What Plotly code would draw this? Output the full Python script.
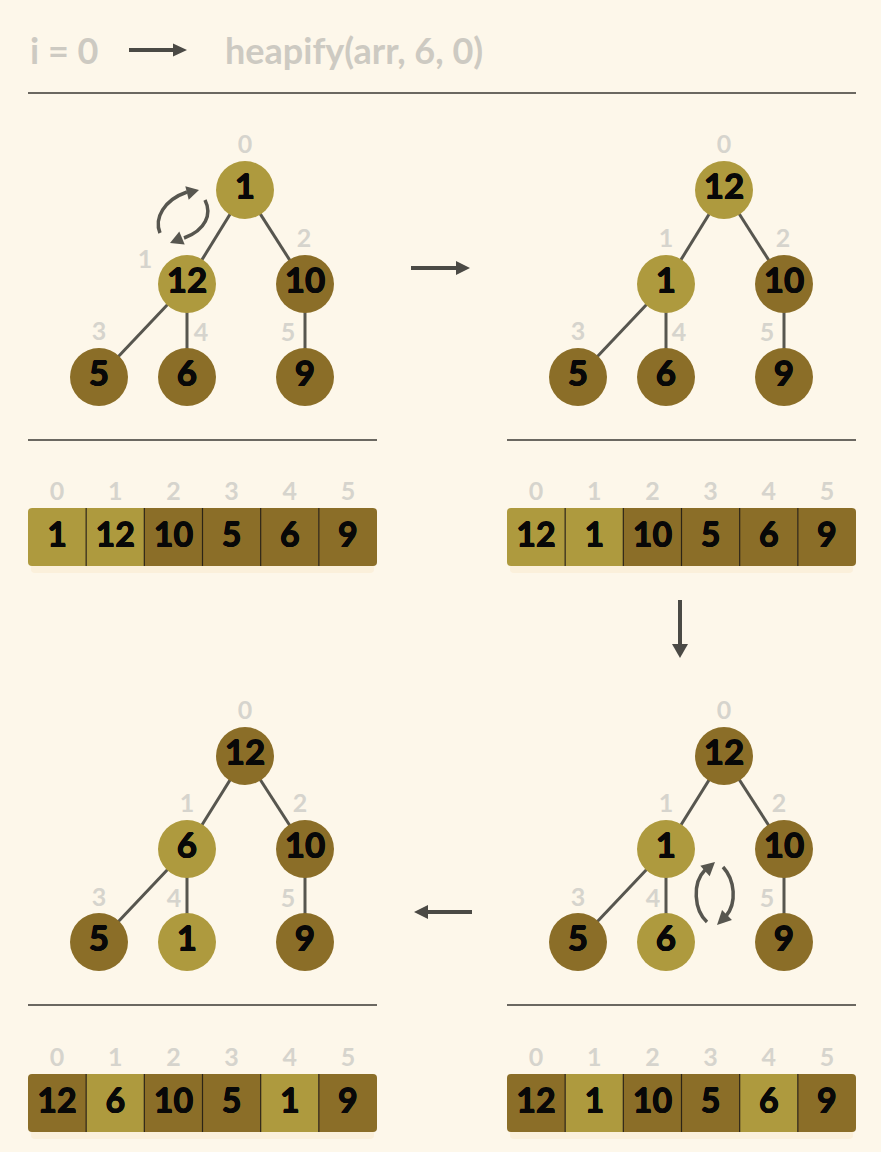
import plotly.graph_objects as go

W, H = 881, 1152
BG = "#fdf7ea"
LIGHT = "#ae9a3e"
DARK = "#8b6e28"
INK = "#080808"
EDGE = "#57564f"
ARROW = "#4b4a45"
FAINT = "#d6d4cd"
TITLE_GRAY = "#cdcac2"
FONT = "Lato"
# thicken the digits a little (the source uses a heavier cut than Lato Bold)
HEAVY = "0.5px 0 0 #080808, -0.5px 0 0 #080808, 0 0.5px 0 #080808, 0 -0.5px 0 #080808"

# title
title_left = "i = 0"
title_right = "heapify(arr, 6, 0)"

# array state in each step: top-left, top-right, bottom-right, bottom-left
arr_1 = [1, 12, 10, 5, 6, 9]
arr_2 = [12, 1, 10, 5, 6, 9]
arr_3 = [12, 1, 10, 5, 6, 9]
arr_4 = [12, 6, 10, 5, 1, 9]
highlight_1 = [0, 1]
highlight_2 = [0, 1]
highlight_3 = [1, 4]
highlight_4 = [1, 4]
index_labels = ["0", "1", "2", "3", "4", "5"]

# layout of the 4 panels (pixel positions)
node_dx = [217, 159, 277, 71, 159, 277]      # x of each heap slot from panel left
top_rows = [190, 284, 377]
bottom_rows = [756, 849, 942]
lbl_a = [(0, -43), (-42, -22), (-1, -43), (0, -43), (14, -42), (-17, -42)]
lbl_b = [(0, -43), (0, -43), (-1, -43), (0, -43), (13, -42), (-17, -42)]
lbl_c = [(0, -43), (0, -43), (-5, -43), (0, -42), (-13, -41), (-17, -41)]

panels = [
    dict(arr=arr_1, hl=highlight_1, left=28, rows=top_rows, line_y=440, arr_y=508, lbl=lbl_a),
    dict(arr=arr_2, hl=highlight_2, left=507, rows=top_rows, line_y=440, arr_y=508, lbl=lbl_b),
    dict(arr=arr_3, hl=highlight_3, left=507, rows=bottom_rows, line_y=1005, arr_y=1074, lbl=lbl_c),
    dict(arr=arr_4, hl=highlight_4, left=28, rows=bottom_rows, line_y=1005, arr_y=1074, lbl=lbl_c),
]
PANEL_W = 349
CELL_H = 58
R = 29


def head(tip, base, half):
    tx, ty = tip
    bx, by = base
    dx, dy = tx - bx, ty - by
    n = (dx * dx + dy * dy) ** 0.5
    px, py = -dy / n * half, dx / n * half
    return (f"M {tx},{ty} L {bx + px},{by + py} L {bx - px},{by - py} Z")


def straight_arrow(x0, y0, x1, y1, shapes, half=7, hl=14, width=4):
    dx, dy = x1 - x0, y1 - y0
    n = (dx * dx + dy * dy) ** 0.5
    bx, by = x1 - dx / n * hl, y1 - dy / n * hl
    shapes.append(dict(type="line", x0=x0, y0=y0, x1=bx + dx / n * 2, y1=by + dy / n * 2,
                       line=dict(color=ARROW, width=width), layer="below"))
    shapes.append(dict(type="path", path=head((x1, y1), (bx, by), half),
                       fillcolor=ARROW, line=dict(width=0), layer="below"))


def swap_arrow(arc_a, tip_a, arc_b, tip_b, shapes):
    for arc, (tip, base) in ((arc_a, tip_a), (arc_b, tip_b)):
        shapes.append(dict(type="path", path=arc, line=dict(color=EDGE, width=3.5),
                           layer="below"))
        shapes.append(dict(type="path", path=head(tip, base, 7),
                           fillcolor=EDGE, line=dict(width=0), layer="below"))


def rounded_cell(x0, y0, x1, y1, rl, rr):
    return (f"M {x0 + rl},{y0} L {x1 - rr},{y0} Q {x1},{y0} {x1},{y0 + rr} "
            f"L {x1},{y1 - rr} Q {x1},{y1} {x1 - rr},{y1} L {x0 + rl},{y1} "
            f"Q {x0},{y1} {x0},{y1 - rl} L {x0},{y0 + rl} Q {x0},{y0} {x0 + rl},{y0} Z")


fig = go.Figure()
shapes = []

# title row
shapes.append(dict(type="line", x0=28, y0=93, x1=856, y1=93,
                   line=dict(color="#3a3833", width=1.3), layer="below"))
straight_arrow(129, 50, 187, 50, shapes, half=6.5, hl=14, width=4)

for p in panels:
    left = p["left"]
    xs = [left + d for d in node_dx]
    ys = [p["rows"][0], p["rows"][1], p["rows"][1],
          p["rows"][2], p["rows"][2], p["rows"][2]]
    # edges
    for i in range(1, len(p["arr"])):
        par = (i - 1) // 2
        shapes.append(dict(type="line", x0=xs[par], y0=ys[par], x1=xs[i], y1=ys[i],
                           line=dict(color=EDGE, width=3), layer="below"))
    cols = [LIGHT if i in p["hl"] else DARK for i in range(len(p["arr"]))]
    fig.add_trace(go.Scatter(
        x=xs, y=ys, mode="markers+text",
        marker=dict(size=2 * R, color=cols, line=dict(width=0)),
        text=[str(v) for v in p["arr"]], textposition="middle center",
        textfont=dict(family=FONT, size=35, color=INK, weight="bold", shadow=HEAVY),
        hoverinfo="skip", showlegend=False))
    # slot indices next to nodes
    fig.add_trace(go.Scatter(
        x=[xs[i] + p["lbl"][i][0] for i in range(6)],
        y=[ys[i] + p["lbl"][i][1] for i in range(6)],
        mode="text", text=index_labels,
        textfont=dict(family=FONT, size=25, color=FAINT, weight="bold"),
        hoverinfo="skip", showlegend=False))

    # separator
    shapes.append(dict(type="line", x0=left, y0=p["line_y"], x1=left + PANEL_W, y1=p["line_y"],
                       line=dict(color="#3a3833", width=1.3), layer="below"))

    # array row
    cw = PANEL_W / len(p["arr"])
    y0 = p["arr_y"]
    y1 = y0 + CELL_H
    shapes.append(dict(type="path",
                       path=rounded_cell(left + 3, y1 - 2, left + PANEL_W - 3, y1 + 7, 4, 4),
                       fillcolor="rgba(238,196,130,0.14)", line=dict(width=0), layer="below"))
    cx = []
    for i in range(len(p["arr"])):
        a = left + i * cw
        b = a + cw
        rl = 4 if i == 0 else 0
        rr = 4 if i == len(p["arr"]) - 1 else 0
        shapes.append(dict(type="path", path=rounded_cell(a, y0, b, y1, rl, rr),
                           fillcolor=cols[i], line=dict(width=0), layer="below"))
        if i > 0:
            shapes.append(dict(type="line", x0=a, y0=y0, x1=a, y1=y1,
                               line=dict(color="#2c2416", width=1.2), layer="below"))
        cx.append(a + cw / 2)
    fig.add_trace(go.Scatter(
        x=cx, y=[y0 + CELL_H / 2 + 1] * 6, mode="text",
        text=[str(v) for v in p["arr"]],
        textfont=dict(family=FONT, size=34, color=INK, weight="bold", shadow=HEAVY),
        hoverinfo="skip", showlegend=False))
    fig.add_trace(go.Scatter(
        x=cx, y=[y0 - 14] * 6, mode="text", text=index_labels,
        textfont=dict(family=FONT, size=25, color=FAINT, weight="bold"),
        hoverinfo="skip", showlegend=False))

# step arrows between panels
straight_arrow(411, 268, 470, 268, shapes, half=7, hl=14)
straight_arrow(680, 600, 680, 658, shapes, half=8, hl=14)
straight_arrow(472, 912, 414, 912, shapes, half=7, hl=14)

# swap markers
swap_arrow("M 160,233 C 154,218 164,200 187,192", ((199, 190), (187, 193)),
           "M 205,200 C 212,214 206,230 184,238", ((170, 243), (182, 238)), shapes)
swap_arrow("M 707,922 C 694,910 692,883 705,870", ((715, 862), (705, 871)),
           "M 723,867 C 735,880 737,903 726,916", ((717, 925), (727, 915)), shapes)

fig.add_annotation(x=28, y=50, text=title_left, showarrow=False, xanchor="left",
                   yanchor="middle", font=dict(family=FONT, size=36, color=TITLE_GRAY,
                                               weight="bold"))
fig.add_annotation(x=223, y=50, text=title_right, showarrow=False, xanchor="left",
                   yanchor="middle", font=dict(family=FONT, size=36, color=TITLE_GRAY,
                                               weight="bold"))

fig.update_layout(
    width=W, height=H, margin=dict(l=0, r=0, t=0, b=0),
    paper_bgcolor=BG, plot_bgcolor=BG, shapes=shapes,
    xaxis=dict(range=[0, W], visible=False, fixedrange=True),
    yaxis=dict(range=[H, 0], visible=False, fixedrange=True),
)

fig.write_html("out.html", config={"displayModeBar": False},
               post_script="document.body.style.margin='0';"
               "document.body.style.background='" + BG + "';")
